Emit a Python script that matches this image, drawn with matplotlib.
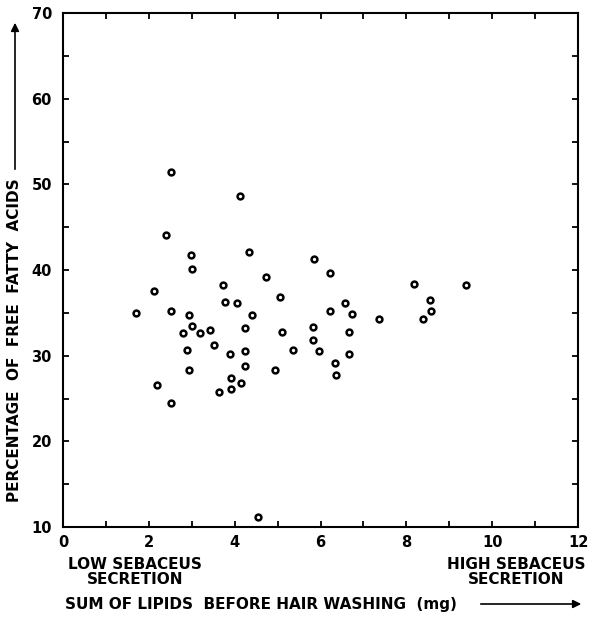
import numpy as np
import matplotlib
matplotlib.use("Agg")
import matplotlib.pyplot as plt
from matplotlib.ticker import MultipleLocator

# sum of lipids before hair washing (mg) vs % free fatty acids
lipids = [2.51, 4.13, 2.39, 2.99, 4.33, 5.85, 3.00, 4.72, 2.11, 3.72,
          3.77, 4.05, 5.06, 1.69, 2.52, 2.94, 4.41, 3.00, 4.24, 5.83,
          2.79, 3.19, 3.43, 5.11, 5.83, 5.96, 2.88, 3.53, 3.89, 4.24,
          5.35, 2.94, 4.24, 4.94, 2.19, 3.92, 4.15, 3.64, 3.91, 2.52,
          6.23, 8.19, 9.39, 6.56, 8.56, 6.23, 6.74, 7.37, 8.57, 8.38,
          6.67, 6.67, 6.34, 6.36, 4.55]
ffa = [51.4, 48.6, 44.1, 41.8, 42.1, 41.3, 40.1, 39.2, 37.6, 38.2,
       36.3, 36.2, 36.8, 35.0, 35.2, 34.8, 34.7, 33.5, 33.2, 33.4,
       32.6, 32.6, 33.0, 32.8, 31.8, 30.6, 30.7, 31.2, 30.2, 30.6,
       30.7, 28.3, 28.8, 28.3, 26.6, 27.4, 26.8, 25.8, 26.1, 24.5,
       39.7, 38.4, 38.3, 36.2, 36.5, 35.2, 34.9, 34.3, 35.2, 34.3,
       32.8, 30.2, 29.2, 27.8, 11.2]

x_ticks = [0, 2, 4, 6, 8, 10, 12]
y_ticks = [10, 20, 30, 40, 50, 60, 70]

W, H = 591, 623
fig = plt.figure(figsize=(W / 100, H / 100), dpi=100)
ax = fig.add_axes([63 / W, 1 - 527 / H, (578 - 63) / W, (527 - 13) / H])

ax.plot(lipids, ffa, 'o', markersize=4.2, markerfacecolor='white',
        markeredgecolor='black', markeredgewidth=1.8, linestyle='none')

ax.set_xlim(0, 12)
ax.set_ylim(10, 70)
ax.set_xticks(x_ticks)
ax.set_yticks(y_ticks)
ax.xaxis.set_minor_locator(MultipleLocator(1))
ax.yaxis.set_minor_locator(MultipleLocator(5))

for s in ax.spines.values():
    s.set_linewidth(1.5)

ax.tick_params(which='both', direction='in', top=True, right=True,
               length=4, width=1.3)
ax.tick_params(axis='x', which='major', pad=6)
ax.tick_params(axis='y', which='major', pad=8)
ax.tick_params(labeltop=False, labelright=False)
ax.tick_params(which='major', labelsize=10.5)
for lbl in ax.get_xticklabels() + ax.get_yticklabels():
    lbl.set_fontweight('bold')

# small secretion notes under the x-axis
fig.text(135 / W, 1 - 572 / H, "LOW SEBACEUS\nSECRETION", ha='center',
         va='center', fontsize=11, fontweight='bold', linespacing=1.0)
fig.text(516 / W, 1 - 572 / H, "HIGH SEBACEUS\nSECRETION", ha='center',
         va='center', fontsize=11, fontweight='bold', linespacing=1.0)

# axis titles with trailing arrows
fig.text(65 / W, 1 - 604 / H, "SUM OF LIPIDS  BEFORE HAIR WASHING  (mg)",
         ha='left', va='center', fontsize=11, fontweight='bold')
fig.text(15 / W, 1 - 502 / H, "PERCENTAGE  OF  FREE  FATTY  ACIDS",
         ha='center', va='bottom', rotation=90, fontsize=11,
         fontweight='bold')

arrow = dict(arrowstyle='-|>', color='black', lw=1.2, mutation_scale=12)
ax.annotate('', xy=(584 / W, 1 - 604 / H), xytext=(478 / W, 1 - 604 / H),
            xycoords='figure fraction', textcoords='figure fraction',
            arrowprops=arrow)
ax.annotate('', xy=(15 / W, 1 - 20 / H), xytext=(15 / W, 1 - 172 / H),
            xycoords='figure fraction', textcoords='figure fraction',
            arrowprops=arrow)

fig.savefig('out.png', dpi=100)
